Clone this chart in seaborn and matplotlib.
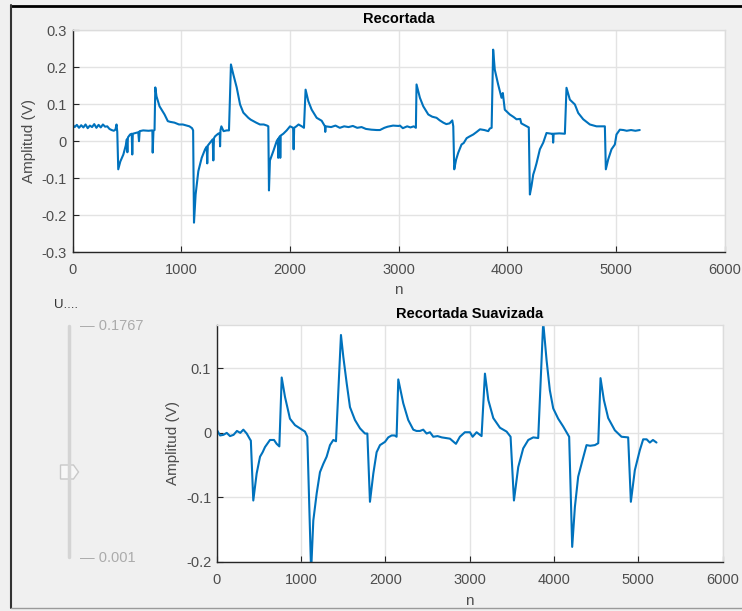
import numpy as np
import pandas as pd
import matplotlib
matplotlib.use("Agg")
import matplotlib.pyplot as plt
from matplotlib.lines import Line2D
from matplotlib.patches import Polygon
import seaborn as sns

# ---- raw (cropped) signal: sample index and amplitude in volts ----
n_raw = [0, 20, 40, 60, 80, 100, 120, 140, 160, 180, 200, 220, 240, 260, 280, 300, 320, 340, 360, 380, 395, 405, 412, 421,
         440, 468, 490, 500, 505, 510, 530, 545, 550, 555, 580, 605, 612, 618, 650, 700, 735, 738, 745, 755, 762,
         773, 801, 830, 847, 877, 900, 938, 980, 1015, 1050, 1076, 1100, 1110, 1118,
         1133, 1158, 1189, 1220, 1235, 1240, 1245, 1266, 1290, 1296, 1302, 1312, 1340, 1355, 1358, 1362, 1370, 1390, 1419, 1440, 1458,
         1480, 1511, 1542, 1572, 1595, 1618, 1640, 1664, 1690, 1725, 1760, 1790, 1802, 1808,
         1817, 1848, 1879, 1890, 1893, 1897, 1909, 1912, 1916, 1940, 1971, 2002, 2030, 2035, 2040, 2060, 2080, 2110, 2130, 2145,
         2170, 2201, 2247, 2293, 2323, 2326, 2330, 2380, 2420, 2460, 2500, 2540, 2580, 2620, 2660, 2700, 2750, 2800, 2829, 2870,
         2900, 2950, 3000, 3013, 3040, 3080, 3110, 3140, 3160, 3166,
         3197, 3228, 3274, 3310, 3350, 3380, 3412, 3440, 3470, 3495, 3504, 3513,
         3530, 3550, 3580, 3600, 3627, 3650, 3688, 3720, 3750, 3790, 3826, 3840, 3857, 3871,
         3886, 3917, 3948, 3960, 3978, 4024, 4060, 4086, 4120, 4130, 4162, 4199, 4209,
         4224, 4240, 4255, 4270, 4301, 4332, 4362, 4408, 4420, 4423, 4428, 4480, 4531, 4546,
         4577, 4623, 4654, 4700, 4761, 4822, 4860, 4899, 4908,
         4930, 4960, 4991, 5006, 5037, 5070, 5100, 5140, 5180, 5220]
v_raw = [0.045, 0.038, 0.044, 0.036, 0.043, 0.037, 0.045, 0.035, 0.042, 0.038, 0.046, 0.036, 0.044, 0.037, 0.045, 0.039, 0.040, 0.033, 0.030, 0.028, 0.031, 0.045, 0.025, -0.076,
         -0.055, -0.036, -0.012, 0.005, -0.030, 0.010, 0.018, 0.020, -0.036, 0.020, 0.022, 0.024, 0.000, 0.027, 0.029, 0.028, 0.029, -0.031, 0.028, 0.030, 0.145,
         0.121, 0.094, 0.080, 0.072, 0.054, 0.052, 0.050, 0.045, 0.045, 0.042, 0.040, 0.035, 0.029, -0.220,
         -0.144, -0.081, -0.045, -0.022, -0.015, -0.060, -0.012, -0.004, 0.005, -0.052, 0.008, 0.013, 0.020, 0.022, -0.014, 0.030, 0.040, 0.027, 0.029, 0.029, 0.207,
         0.180, 0.145, 0.099, 0.077, 0.070, 0.063, 0.058, 0.054, 0.050, 0.045, 0.045, 0.042, 0.040, -0.133,
         -0.052, -0.027, 0.000, 0.005, -0.045, 0.008, 0.013, -0.045, 0.015, 0.020, 0.029, 0.040, 0.036, -0.022, 0.036, 0.040, 0.045, 0.040, 0.036, 0.139,
         0.108, 0.085, 0.063, 0.055, 0.040, 0.025, 0.040, 0.038, 0.042, 0.036, 0.040, 0.038, 0.041, 0.036, 0.038, 0.033, 0.031, 0.030, 0.030, 0.036,
         0.039, 0.042, 0.041, 0.042, 0.035, 0.040, 0.037, 0.040, 0.036, 0.153,
         0.117, 0.094, 0.072, 0.066, 0.063, 0.056, 0.050, 0.046, 0.048, 0.056, 0.040, -0.076,
         -0.050, -0.031, -0.009, -0.005, 0.008, 0.012, 0.018, 0.025, 0.032, 0.030, 0.027, 0.034, 0.036, 0.247,
         0.193, 0.153, 0.117, 0.130, 0.085, 0.072, 0.065, 0.059, 0.060, 0.048, 0.043, 0.037, -0.144,
         -0.121, -0.090, -0.076, -0.060, -0.022, -0.004, 0.022, 0.020, 0.020, -0.004, 0.020, 0.021, 0.020, 0.144,
         0.112, 0.099, 0.076, 0.059, 0.045, 0.040, 0.040, 0.040, -0.076,
         -0.049, -0.022, -0.009, 0.018, 0.031, 0.030, 0.028, 0.030, 0.028, 0.030]

# ---- smoothed signal ----
n_smooth = [0, 40, 80, 119, 158, 200, 240, 280, 316, 356, 395, 405, 434, 474, 514, 545, 573, 632, 680, 711, 743, 771,
            810, 869, 929, 988, 1047, 1075, 1120,
            1146, 1186, 1225, 1265, 1304, 1344, 1383, 1415, 1474,
            1502, 1542, 1581, 1640, 1700, 1759, 1787, 1818,
            1858, 1897, 1937, 1996, 2035, 2075, 2110, 2134, 2154,
            2213, 2272, 2332, 2370, 2411, 2450, 2490, 2530, 2569, 2620, 2670, 2720, 2767, 2838, 2885, 2944, 3004, 3036, 3083, 3142, 3182,
            3222, 3281, 3360, 3439, 3486, 3526,
            3577, 3636, 3696, 3755, 3814, 3873,
            3913, 3952, 3992, 4051, 4110, 4181, 4217,
            4249, 4288, 4340, 4387, 4430, 4486, 4526, 4553,
            4593, 4644, 4723, 4802, 4881, 4913,
            4960, 5019, 5059, 5100, 5138, 5175, 5217]
v_smooth = [0.005, -0.004, -0.003, 0.000, -0.005, -0.003, 0.003, 0.000, 0.005, -0.001, -0.010, -0.012, -0.105, -0.063, -0.037, -0.030, -0.022, -0.011, -0.011, -0.017, -0.021, 0.086,
            0.056, 0.022, 0.012, 0.007, 0.002, -0.006, -0.215,
            -0.136, -0.094, -0.061, -0.048, -0.037, -0.019, -0.011, -0.013, 0.152,
            0.118, 0.077, 0.040, 0.020, 0.007, -0.001, -0.001, -0.107,
            -0.063, -0.030, -0.019, -0.014, -0.007, -0.004, -0.004, -0.006, 0.083,
            0.046, 0.020, 0.005, 0.003, 0.003, 0.005, -0.001, 0.001, -0.006, -0.005, -0.007, -0.008, -0.009, -0.017, -0.006, 0.001, 0.001, -0.006, 0.001, -0.005, 0.092,
            0.051, 0.023, 0.008, 0.002, -0.006, -0.105,
            -0.053, -0.024, -0.011, -0.007, -0.008, 0.172,
            0.113, 0.066, 0.038, 0.022, 0.010, -0.006, -0.177,
            -0.115, -0.068, -0.042, -0.019, -0.020, -0.019, -0.016, 0.085,
            0.051, 0.023, 0.004, -0.006, -0.007, -0.107,
            -0.058, -0.027, -0.010, -0.010, -0.015, -0.011, -0.015]

x_ticks = [0, 1000, 2000, 3000, 4000, 5000, 6000]
y_ticks_raw = [-0.3, -0.2, -0.1, 0, 0.1, 0.2, 0.3]
y_ticks_smooth = [-0.2, -0.1, 0, 0.1]
slider_max_label = "0.1767"
slider_min_label = "0.001"

raw = pd.DataFrame({"n": n_raw, "v": v_raw})
smooth = pd.DataFrame({"n": n_smooth, "v": v_smooth})

sns.set_theme(style="whitegrid")
plt.rcParams["font.family"] = ["Liberation Sans", "DejaVu Sans"]
plt.rcParams["axes.unicode_minus"] = False

W, H = 742, 611
fig = plt.figure(figsize=(W / 100, H / 100), dpi=100, facecolor="#f0f0f0")

def fx(px):
    return px / W

def fy(py):
    return 1 - py / H

LINE = "#0072bd"
TICK = "#4d4d4d"
GRID = "#e3e3e3"

def style_axes(ax):
    ax.set_facecolor("white")
    ax.grid(True, color=GRID, lw=1.0)
    for s in ("left", "bottom"):
        ax.spines[s].set_color("#262626")
        ax.spines[s].set_linewidth(1.0)
    for s in ("top", "right"):
        ax.spines[s].set_color("#dcdcdc")
        ax.spines[s].set_linewidth(1.0)
    ax.tick_params(direction="in", length=4, width=0.8, color="#262626",
                   labelsize=10.5, labelcolor=TICK, bottom=True, left=True)
    ax.tick_params(axis="x", pad=8)
    ax.tick_params(axis="y", pad=4)

# top panel: cropped signal
ax1 = fig.add_axes([fx(72.5), fy(252.3), fx(724.5) - fx(72.5), fy(30) - fy(252.3)])
sns.lineplot(data=raw, x="n", y="v", ax=ax1, color=LINE, lw=1.5, estimator=None, sort=False)
ax1.set_xlim(0, 6000)
ax1.set_ylim(-0.3, 0.3)
ax1.set_xticks(x_ticks)
ax1.set_yticks(y_ticks_raw)
ax1.set_yticklabels([f"{t:g}" for t in y_ticks_raw])
style_axes(ax1)
ax1.set_title("Recortada", fontsize=10.5, fontweight="bold", color="black", pad=5)
ax1.set_xlabel("n", fontsize=11, color=TICK, labelpad=4)
ax1.set_ylabel("Amplitud (V)", fontsize=11, color=TICK, labelpad=4)

# bottom panel: smoothed signal
ax2 = fig.add_axes([fx(216.7), fy(561.7), fx(722.5) - fx(216.7), fy(325) - fy(561.7)])
sns.lineplot(data=smooth, x="n", y="v", ax=ax2, color=LINE, lw=1.5, estimator=None, sort=False)
ax2.set_xlim(0, 6000)
ax2.set_ylim(-0.2, 0.1675)
ax2.set_xticks(x_ticks)
ax2.set_yticks(y_ticks_smooth)
ax2.set_yticklabels([f"{t:g}" for t in y_ticks_smooth])
style_axes(ax2)
ax2.set_title("Recortada Suavizada", fontsize=10.5, fontweight="bold", color="black", pad=5)
ax2.set_xlabel("n", fontsize=11, color=TICK, labelpad=5)
ax2.set_ylabel("Amplitud (V)", fontsize=11, color=TICK, labelpad=4)

# panel frame
fig.add_artist(Line2D([fx(11), fx(742)], [fy(5.5), fy(5.5)], color="black", lw=2.0))
fig.add_artist(Line2D([fx(11), fx(11)], [fy(5), fy(608)], color="#333333", lw=1.5))
fig.add_artist(Line2D([fx(11), fx(742)], [fy(608), fy(608)], color="#9a9a9a", lw=1.0))

# vertical slider control
fig.add_artist(Line2D([fx(68.5), fx(68.5)], [fy(326), fy(557)], color="#d4d4d4", lw=2.5))
thumb = [(60.5, 465), (73.5, 465), (78.5, 472), (73.5, 479), (60.5, 479)]
fig.add_artist(Polygon([(fx(a), fy(b)) for a, b in thumb], closed=True,
                       facecolor="#f7f7f7", edgecolor="#c8c8c8", lw=1.0))
fig.text(fx(80), fy(326), "\u2014 " + slider_max_label, fontsize=10.5, color="#ababab",
         ha="left", va="center")
fig.text(fx(80), fy(558), "\u2014 " + slider_min_label, fontsize=10.5, color="#ababab",
         ha="left", va="center")
fig.text(fx(54), fy(305), "U....", fontsize=9.5, color="#333333", ha="left", va="center")

fig.savefig("out.png", dpi=100, facecolor=fig.get_facecolor())
